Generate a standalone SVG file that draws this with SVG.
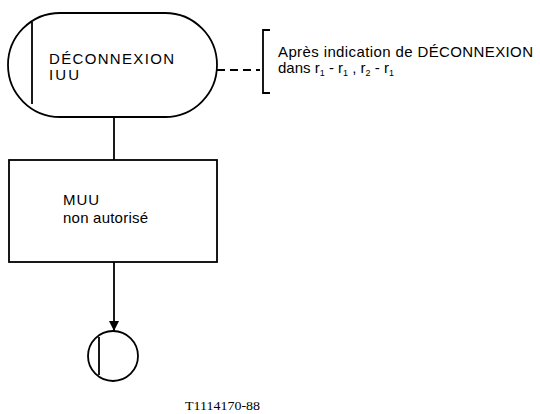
<svg xmlns="http://www.w3.org/2000/svg" width="540" height="414" viewBox="0 0 540 414">
<style>
.s{fill:none;stroke:#000;stroke-width:1.8}
.t{font-family:"Liberation Sans",Arial,sans-serif;font-size:15px;fill:#000}
.c{font-family:"Liberation Serif","Times New Roman",serif;font-size:13px;fill:#000}
</style>
<defs>
<marker id="ah" viewBox="0 0 10 10" refX="10" refY="5" markerWidth="10" markerHeight="10" markerUnits="userSpaceOnUse" orient="auto">
<path d="M0,0 L10,5 L0,10 Z" fill="#000"/>
</marker>
</defs>
<g id="connectors">
<line class="s" x1="114" y1="117" x2="114" y2="160"/>
<line class="s" x1="114" y1="262" x2="114" y2="331" marker-end="url(#ah)"/>
<line class="s" x1="217" y1="70" x2="260" y2="70" stroke-dasharray="8,5"/>
</g>
<g id="n1">
<rect class="s" x="8" y="13" width="209" height="104" rx="52" ry="52"/>
<line class="s" x1="32" y1="22" x2="32" y2="104"/>
<text class="t" x="49" y="64" textLength="125" lengthAdjust="spacing">DÉCONNEXION</text>
<text class="t" x="49" y="80" textLength="30" lengthAdjust="spacing">IUU</text>
</g>
<g id="comment">
<path class="s" d="M270,30 L263,30 L263,93 L270,93"/>
<text class="t" x="278" y="57" textLength="255" lengthAdjust="spacing">Après indication de DÉCONNEXION</text>
<text class="t" x="278" y="73" font-size="13">dans r<tspan font-size="9" dy="3">1</tspan><tspan dy="-3"> - r</tspan><tspan font-size="9" dy="3">1</tspan><tspan dy="-3"> , r</tspan><tspan font-size="9" dy="3">2</tspan><tspan dy="-3"> - r</tspan><tspan font-size="9" dy="3">1</tspan></text>
</g>
<g id="n2">
<rect class="s" x="9" y="160" width="208" height="102"/>
<text class="t" x="63" y="205" textLength="36" lengthAdjust="spacing">MUU</text>
<text class="t" x="63" y="223" textLength="85" lengthAdjust="spacing">non autorisé</text>
</g>
<g id="n3">
<circle class="s" cx="113" cy="356" r="25"/>
<line class="s" x1="99" y1="337" x2="99" y2="375"/>
</g>
<text class="c" x="185" y="410" textLength="75" lengthAdjust="spacingAndGlyphs">T1114170-88</text>
</svg>
